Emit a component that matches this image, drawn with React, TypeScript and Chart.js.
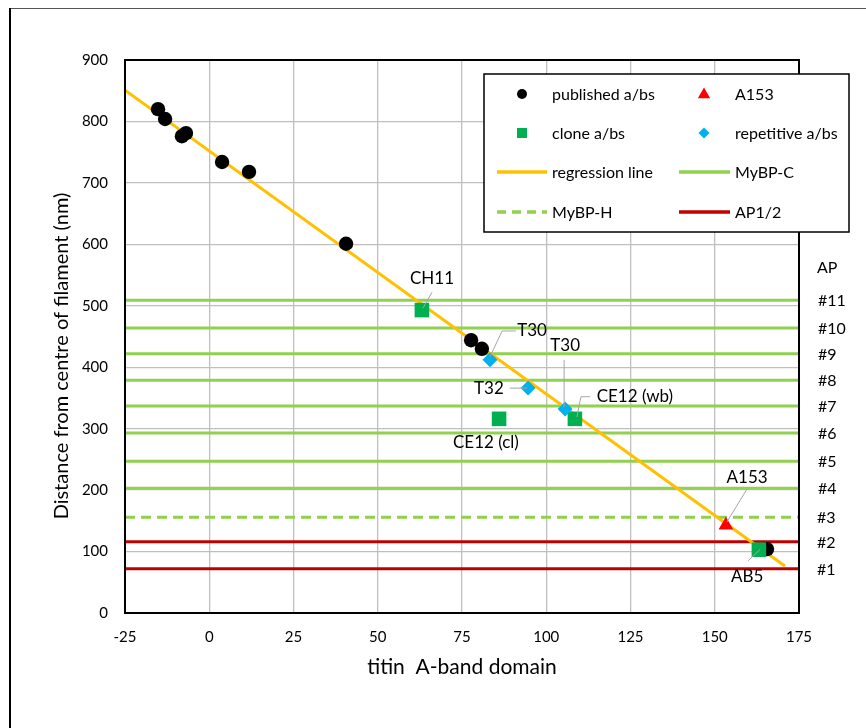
import React, { useEffect, useRef } from 'react';
import { Chart, registerables } from 'chart.js';

Chart.register(...registerables);

const FONT = 'Lato, "Open Sans", "DejaVu Sans", sans-serif';

// ---- data ----
const publishedX = [-15.2, -13.1, -8.1, -6.9, 3.8, 11.8, 40.6, 77.7, 80.9, 165.5];
const publishedY = [820, 804, 776, 781, 734, 718, 601, 444, 430, 104];
const cloneX = [63.1, 86.0, 108.5, 163.1];
const cloneY = [493, 316, 316, 103];
const repetitiveX = [83.3, 94.6, 105.6];
const repetitiveY = [412, 366, 332];
const a153X = [153.3];
const a153Y = [143];
const regressionX = [-25, 170.8];
const regressionY = [851, 76.5];
const mybpcY = [509, 464, 422, 379, 337, 293, 247, 203];
const mybphY = [156];
const ap12Y = [116, 72];
const apLabels = ['#11', '#10', '#9', '#8', '#7', '#6', '#5', '#4', '#3', '#2', '#1'];
const xMin = -25;
const xMax = 175;
const yMin = 0;
const yMax = 900;

// annotation texts (anchor in data coordinates) and leader polylines
const annText = ['CH11', 'T30', 'T30', 'T32', 'CE12 (wb)', 'CE12 (cl)', 'A153', 'AB5'];
const annX = [66.1, 95.8, 105.6, 83.0, 126.3, 82.1, 159.6, 159.6];
const annY = [545, 459, 436, 365, 352, 278, 220, 59];
const leaders: number[][][] = [
  [[63.4, 496], [66.1, 522]],
  [[83.3, 417], [86.9, 459], [91.0, 459]],
  [[105.3, 335], [105.3, 412]],
  [[89.2, 366], [94.3, 366]],
  [[109.1, 319], [110.3, 352], [113.0, 352]],
  [],
  [[153.6, 148], [159.6, 202]],
  [[163.4, 103], [159.9, 85]],
];

const pts = (xs: number[], ys: number[]) => xs.map((x, i) => ({ x, y: ys[i] }));
const hline = (y: number) => [{ x: xMin, y }, { x: xMax, y }];

const COLORS = {
  published: '#000000',
  clone: '#00B050',
  repetitive: '#00B0F0',
  a153: '#FF0000',
  regression: '#FFC000',
  mybpc: '#92D050',
  ap12: '#C00000',
};

function drawMarker(ctx: CanvasRenderingContext2D, kind: string, x: number, y: number, s: number, color: string) {
  ctx.save();
  ctx.fillStyle = color;
  ctx.beginPath();
  if (kind === 'circle') {
    ctx.arc(x, y, s, 0, Math.PI * 2);
  } else if (kind === 'rect') {
    ctx.rect(x - s, y - s, 2 * s, 2 * s);
  } else if (kind === 'diamond') {
    ctx.moveTo(x - s, y);
    ctx.lineTo(x, y - s);
    ctx.lineTo(x + s, y);
    ctx.lineTo(x, y + s);
    ctx.closePath();
  } else if (kind === 'triangle') {
    ctx.moveTo(x, y - s);
    ctx.lineTo(x + s * 0.95, y + s * 0.65);
    ctx.lineTo(x - s * 0.95, y + s * 0.65);
    ctx.closePath();
  }
  ctx.fill();
  ctx.restore();
}

function drawLegendLine(ctx: CanvasRenderingContext2D, x1: number, x2: number, y: number, color: string, dash: number[]) {
  ctx.save();
  ctx.strokeStyle = color;
  ctx.lineWidth = 3.5;
  ctx.setLineDash(dash);
  ctx.beginPath();
  ctx.moveTo(x1, y);
  ctx.lineTo(x2, y);
  ctx.stroke();
  ctx.restore();
}

const overlay = {
  id: 'overlay',
  beforeDraw(chart: any) {
    const ctx: CanvasRenderingContext2D = chart.ctx;
    ctx.save();
    ctx.fillStyle = '#ffffff';
    ctx.fillRect(0, 0, chart.width, chart.height);
    // outer frame
    ctx.strokeStyle = '#555555';
    ctx.lineWidth = 1;
    ctx.beginPath();
    ctx.moveTo(10, 8.5);
    ctx.lineTo(chart.width, 8.5);
    ctx.stroke();
    ctx.strokeStyle = '#000000';
    ctx.lineWidth = 2;
    ctx.beginPath();
    ctx.moveTo(10, 8);
    ctx.lineTo(10, chart.height);
    ctx.stroke();
    ctx.restore();
  },
  afterDatasetsDraw(chart: any) {
    const ctx: CanvasRenderingContext2D = chart.ctx;
    const xs = chart.scales.x;
    const ys = chart.scales.y;
    const a = chart.chartArea;
    ctx.save();
    // plot border
    ctx.strokeStyle = '#000000';
    ctx.lineWidth = 2;
    ctx.strokeRect(a.left, a.top, a.right - a.left, a.bottom - a.top);

    // leader lines
    ctx.strokeStyle = '#a6a6a6';
    ctx.lineWidth = 1;
    leaders.forEach((poly) => {
      if (!poly.length) return;
      ctx.beginPath();
      poly.forEach(([x, y], i) => {
        const px = xs.getPixelForValue(x);
        const py = ys.getPixelForValue(y);
        if (i === 0) ctx.moveTo(px, py);
        else ctx.lineTo(px, py);
      });
      ctx.stroke();
    });

    // annotation texts
    ctx.fillStyle = '#000000';
    ctx.font = `17px ${FONT}`;
    ctx.textAlign = 'center';
    ctx.textBaseline = 'middle';
    annText.forEach((t, i) => {
      ctx.fillText(t, xs.getPixelForValue(annX[i]), ys.getPixelForValue(annY[i]));
    });

    // AP labels on the right
    const apY = [...mybpcY, ...mybphY, ...ap12Y];
    ctx.textAlign = 'left';
    ctx.font = `16px ${FONT}`;
    ctx.fillText('AP', a.right + 18, ys.getPixelForValue(561));
    apLabels.forEach((t, i) => {
      ctx.fillText(t, a.right + (i >= 8 ? 18 : 19), ys.getPixelForValue(apY[i]) + 1);
    });

    // legend
    const L = { l: 484, t: 74, r: 849, b: 232 };
    ctx.fillStyle = '#ffffff';
    ctx.fillRect(L.l, L.t, L.r - L.l, L.b - L.t);
    ctx.strokeStyle = '#000000';
    ctx.lineWidth = 1.5;
    ctx.strokeRect(L.l, L.t, L.r - L.l, L.b - L.t);
    const rows = [94, 133, 172, 212];
    const c1 = { m: 522, l1: 497, l2: 547, t: 552 };
    const c2 = { m: 704, l1: 679, l2: 730, t: 735 };
    drawMarker(ctx, 'circle', c1.m, rows[0], 5, COLORS.published);
    drawMarker(ctx, 'triangle', c2.m, rows[0], 6.5, COLORS.a153);
    drawMarker(ctx, 'rect', c1.m, rows[1], 5, COLORS.clone);
    drawMarker(ctx, 'diamond', c2.m, rows[1], 5.5, COLORS.repetitive);
    drawLegendLine(ctx, c1.l1, c1.l2, rows[2], COLORS.regression, []);
    drawLegendLine(ctx, c2.l1, c2.l2, rows[2], COLORS.mybpc, []);
    drawLegendLine(ctx, c1.l1, c1.l2, rows[3], COLORS.mybpc, [9, 6]);
    drawLegendLine(ctx, c2.l1, c2.l2, rows[3], COLORS.ap12, []);
    ctx.fillStyle = '#000000';
    ctx.font = `16px ${FONT}`;
    ctx.textAlign = 'left';
    ctx.textBaseline = 'middle';
    const lt1 = ['published a/bs', 'clone a/bs', 'regression line', 'MyBP-H'];
    const lt2 = ['A153', 'repetitive a/bs', 'MyBP-C', 'AP1/2'];
    rows.forEach((ry, i) => {
      ctx.fillText(lt1[i], c1.t, ry + 1);
      ctx.fillText(lt2[i], c2.t, ry + 1);
    });

    // axis titles
    ctx.font = `21px ${FONT}`;
    ctx.textAlign = 'center';
    ctx.fillText('titin  A-band domain', (a.left + a.right) / 2, 667);
    ctx.save();
    ctx.translate(62, 356);
    ctx.rotate(-Math.PI / 2);
    ctx.font = `20px ${FONT}`;
    ctx.fillText('Distance from centre of filament (nm)', 0, 0);
    ctx.restore();
    ctx.restore();
  },
};

const gridColor = (min: number, max: number) => (ctx: any) => {
  const v = ctx.tick ? ctx.tick.value : null;
  return v === min || v === max ? 'rgba(0,0,0,0)' : '#bfbfbf';
};

export default function App() {
  const ref = useRef<HTMLCanvasElement>(null);
  useEffect(() => {
    const lineDs = (data: any[], color: string, dash: number[] = []) => ({
      data,
      showLine: true,
      borderColor: color,
      backgroundColor: color,
      borderWidth: 3,
      borderDash: dash,
      pointRadius: 0,
      pointHoverRadius: 0,
    });
    const chart = new Chart(ref.current as HTMLCanvasElement, {
      type: 'scatter',
      data: {
        datasets: [
          { label: 'A153', data: pts(a153X, a153Y), pointStyle: 'triangle', pointRadius: 8.5, backgroundColor: COLORS.a153, borderWidth: 0 } as any,
          { label: 'repetitive a/bs', data: pts(repetitiveX, repetitiveY), pointStyle: 'rectRot', pointRadius: 7.5, backgroundColor: COLORS.repetitive, borderWidth: 0 },
          { label: 'clone a/bs', data: pts(cloneX, cloneY), pointStyle: 'rect', pointRadius: 10.3, backgroundColor: COLORS.clone, borderWidth: 0 },
          { label: 'published a/bs', data: pts(publishedX, publishedY), pointStyle: 'circle', pointRadius: 7.2, backgroundColor: COLORS.published, borderWidth: 0 },
          { label: 'regression line', ...lineDs(pts(regressionX, regressionY), COLORS.regression) },
          ...mybpcY.map((y) => ({ label: 'MyBP-C', ...lineDs(hline(y), COLORS.mybpc) })),
          ...mybphY.map((y) => ({ label: 'MyBP-H', ...lineDs(hline(y), COLORS.mybpc, [10, 6]) })),
          ...ap12Y.map((y) => ({ label: 'AP1/2', ...lineDs(hline(y), COLORS.ap12) })),
        ],
      },
      options: {
        responsive: false,
        animation: false,
        devicePixelRatio: 1,
        layout: { padding: { left: 0, top: 60, right: 67, bottom: 0 } },
        plugins: { legend: { display: false }, tooltip: { enabled: false } },
        scales: {
          x: {
            type: 'linear',
            min: xMin,
            max: xMax,
            afterFit: (s: any) => { s.height = 115; },
            ticks: { stepSize: 25, color: '#000', padding: 15, font: { family: FONT, size: 15 } },
            grid: { color: gridColor(xMin, xMax), lineWidth: 1.3, drawTicks: false },
            border: { display: false },
          },
          y: {
            type: 'linear',
            min: yMin,
            max: yMax,
            afterFit: (s: any) => { s.width = 125; },
            ticks: { stepSize: 100, color: '#000', padding: 17, font: { family: FONT, size: 15 } },
            grid: { color: gridColor(yMin, yMax), lineWidth: 1.3, drawTicks: false },
            border: { display: false },
          },
        },
      },
      plugins: [overlay],
    } as any);
    return () => chart.destroy();
  }, []);
  return (
    <div style={{ position: 'absolute', left: 0, top: 0, width: 866, height: 728 }}>
      <canvas ref={ref} width={866} height={728} style={{ display: 'block' }} />
    </div>
  );
}
